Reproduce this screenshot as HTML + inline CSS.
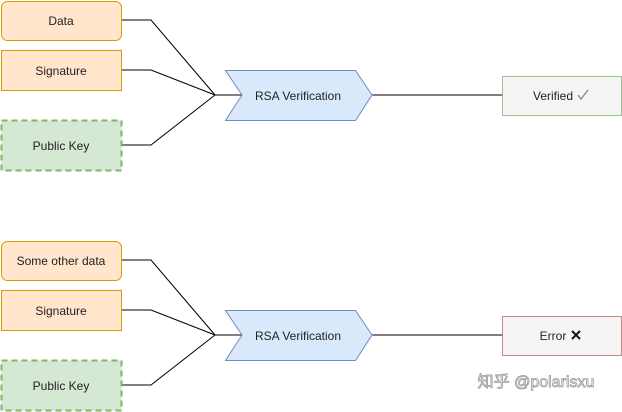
<!DOCTYPE html>
<html><head><style>body{margin:0;background:#fff}</style></head><body>
<svg width="622" height="412" xmlns="http://www.w3.org/2000/svg" style="display:block;font-family:'Liberation Sans','Noto Sans CJK SC',sans-serif;font-size:12px">
<g fill="none" stroke="#000" stroke-width="1">
<polyline points="121,20 151,20 215,95"/><polyline points="121,70 151,70 215,95"/><polyline points="121,145 151,145 215,95"/><line x1="215" y1="95" x2="242" y2="95"/><line x1="372" y1="95" x2="502" y2="95"/>
<polyline points="121,260 151,260 215,335"/><polyline points="121,310 151,310 215,335"/><polyline points="121,385 151,385 215,335"/><line x1="215" y1="335" x2="242" y2="335"/><line x1="372" y1="335" x2="502" y2="335"/>
</g>
<g text-anchor="middle" fill="#222">
<rect x="1.5" y="1.5" width="120" height="39" rx="6" fill="#ffe6cc" stroke="#d79b00"/><text x="61" y="25">Data</text>
<rect x="1.5" y="50.5" width="120" height="40" fill="#ffe6cc" stroke="#d79b00"/><text x="61" y="75">Signature</text>
<rect x="1.5" y="120.5" width="120" height="50" fill="#d5e8d4" stroke="#82b366" stroke-width="2" stroke-dasharray="6,4"/><text x="61" y="150">Public Key</text>
<polygon points="225.5,70.5 355.5,70.5 372,95 355.5,120.5 225.5,120.5 242,95" fill="#dae8fc" stroke="#6c8ebf"/><text x="298" y="100">RSA Verification</text>
<rect x="502.5" y="76.5" width="119" height="39" fill="#f5f5f5" stroke="#9cc08e"/><text x="553" y="100">Verified</text>
<path d="M578,95 l3,4 l7,-9" fill="none" stroke="#888" stroke-width="1.3"/>
<rect x="1.5" y="241.5" width="120" height="39" rx="6" fill="#ffe6cc" stroke="#d79b00"/><text x="61" y="265">Some other data</text>
<rect x="1.5" y="290.5" width="120" height="40" fill="#ffe6cc" stroke="#d79b00"/><text x="61" y="315">Signature</text>
<rect x="1.5" y="360.5" width="120" height="50" fill="#d5e8d4" stroke="#82b366" stroke-width="2" stroke-dasharray="6,4"/><text x="61" y="390">Public Key</text>
<polygon points="225.5,310.5 355.5,310.5 372,335 355.5,360.5 225.5,360.5 242,335" fill="#dae8fc" stroke="#6c8ebf"/><text x="298" y="340">RSA Verification</text>
<rect x="502.5" y="316.5" width="119" height="39" fill="#f5f5f5" stroke="#c88a86"/><text x="553" y="340">Error</text>
<path d="M572,331 l8,8 M580,331 l-8,8" stroke="#111" stroke-width="2"/>
<text x="536" y="387" font-size="16" fill="#fff" stroke="#999" stroke-width="0.8">知乎 @polarisxu</text>
</g>
</svg>
</body></html>
